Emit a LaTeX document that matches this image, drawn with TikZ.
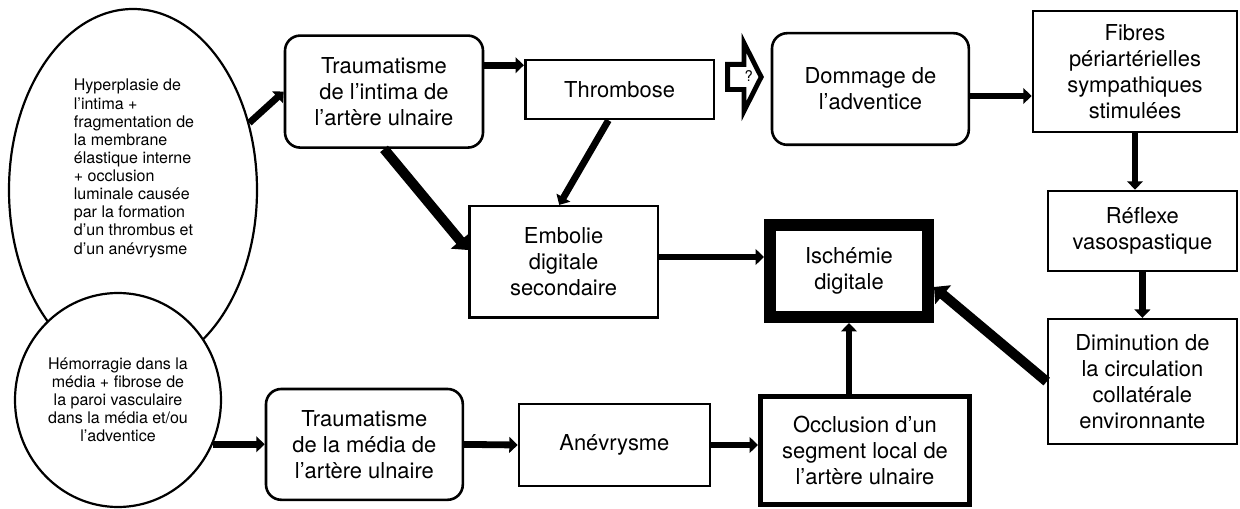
\documentclass[tikz,border=0pt]{standalone}
\usepackage{fontspec}
\setmainfont{TeX Gyre Heros}
\usepackage{tikz}
\usetikzlibrary{shapes,arrows.meta}
\newcommand{\boxfont}{\fontsize{15.6}{18.6}\selectfont}
\newcommand{\bubblefont}{\fontsize{11.4}{12.9}\selectfont}
\newcommand{\qfont}{\fontsize{10.5}{11}\selectfont}
\tikzset{>={Triangle[length=0.21cm,width=0.39cm]}}
\tikzset{
  box/.style={draw, rectangle, line width=0.065cm, align=center, font=\boxfont},
  rbox/.style={box, rounded corners=0.38cm},
  bubble/.style={draw, ellipse, line width=0.055cm, inner sep=0pt, align=center, font=\bubblefont},
  arr/.style={->, line width=0.17cm},
  bigarr/.style={-{Triangle[length=0.3cm,width=0.6cm]}, line width=0.25cm}
}

\begin{document}
\begin{tikzpicture}
    \useasboundingbox (0,0) rectangle (31,12.7);
    \node [bubble, minimum width=6.2cm, minimum height=9.05cm] (hyp) at (3.325,7.95) {};
    \node [align=left, font=\bubblefont] (hyptxt) at (3.35,8.49) {Hyperplasie de\\l’intima +\\fragmentation de\\la membrane\\élastique interne\\+ occlusion\\luminale causée\\par la formation\\d’un thrombus et\\d’un anévrysme};
    \node [bubble, fill=white, minimum width=5.15cm, minimum height=5.35cm] (hem) at (2.95,2.7) {Hémorragie dans la\\média + fibrose de\\la paroi vasculaire\\dans la média et/ou\\l’adventice};

    \node [rbox, minimum width=4.95cm, minimum height=2.8cm] (tintima) at (9.6,10.41) {Traumatisme\\de l’intima de\\l’artère ulnaire};
    \node [box, minimum width=4.72cm, minimum height=1.47cm] (thromb) at (15.49,10.46) {Thrombose};
    \node [box, minimum width=4.72cm, minimum height=2.79cm] (embol) at (14.09,6.15) {Embolie\\digitale\\secondaire};
    \node [rbox, minimum width=4.92cm, minimum height=2.79cm] (domm) at (21.76,10.475) {Dommage de\\l’adventice};
    \node [box, minimum width=5.1cm, minimum height=3.02cm] (fibres) at (28.375,10.91) {Fibres\\périartérielles\\sympathiques\\stimulées};
    \node [box, minimum width=4.72cm, minimum height=2.0cm] (reflexe) at (28.56,6.925) {Réflexe\\vasospastique};
    \node [box, minimum width=4.72cm, minimum height=3.12cm] (dimin) at (28.56,3.16) {Diminution de\\la circulation\\collatérale\\environnante};
    \node [box, line width=0.3cm, minimum width=3.95cm, minimum height=2.3cm] (isch) at (21.225,5.925) {Ischémie\\digitale};
    \node [box, line width=0.125cm, minimum width=5.225cm, minimum height=2.7cm] (occl) at (21.625,1.44) {Occlusion d’un\\segment local de\\l’artère ulnaire};
    \node [rbox, minimum width=4.92cm, minimum height=2.77cm] (tmedia) at (9.11,1.59) {Traumatisme\\de la média de\\l’artère ulnaire};
    \node [box, minimum width=4.77cm, minimum height=2.05cm] (anev) at (15.36,1.575) {Anévrysme};

    \draw [arr] (hyp.30) -- (tintima.west);
    \draw [arr] ([yshift=0.66cm]tintima.east) -- ([yshift=0.66cm]tintima.east -| thromb.west);
    \draw [bigarr] (tintima.south) -- ([yshift=0.3cm]embol.west);
    \draw [arr] ([xshift=-0.28cm]thromb.south) -- ([xshift=-0.11cm]embol.north);
    \draw [line width=0.12cm, line join=miter] (18.19,11.09) -- (18.6,11.09) -- (18.6,11.625) -- (19.03,10.775) -- (18.6,9.925) -- (18.6,10.46) -- (18.19,10.46) -- cycle;
    \node [font=\qfont, inner sep=0pt] (qmark) at (18.72,10.8) {?};
    \draw [arr] ([yshift=-0.175cm]domm.east) -- ([yshift=-0.175cm]domm.east -| fibres.west);
    \draw [arr] (fibres.south) -- (fibres.south |- reflexe.north);
    \draw [arr] (reflexe.south) -- (dimin.north);
    \draw [bigarr] (dimin.west) -- ([yshift=-0.4cm]isch.east);
    \draw [arr] ([yshift=0.125cm]embol.east) -- ([yshift=0.125cm]embol.east -| isch.west);
    \draw [arr] (occl.north -| isch.south) -- (isch.south);
    \draw [arr] (hem.-25) -- (hem.-25 -| tmedia.west);
    \draw [arr] (tmedia.east) -- (anev.west);
    \draw [arr] (anev.east) -- (anev.east -| occl.west);
\end{tikzpicture}
\end{document}
